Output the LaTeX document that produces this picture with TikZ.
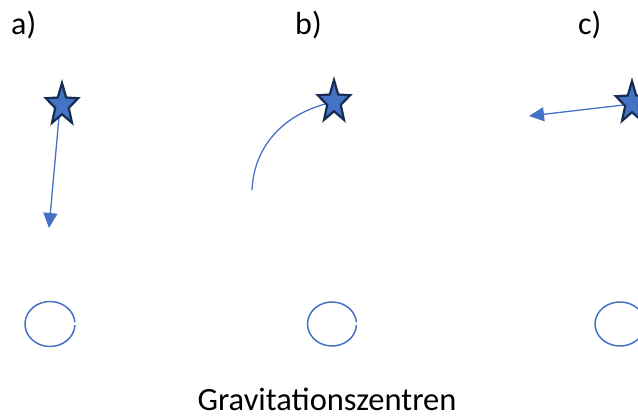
\documentclass[tikz,border=0pt]{standalone}
\usepackage{fontspec}
\setmainfont{Carlito}
\usetikzlibrary{arrows.meta}
\definecolor{lineblue}{HTML}{4472C4}
\definecolor{starfill}{HTML}{4472C4}
\definecolor{navy}{HTML}{172C51}
\tikzset{
  label/.style={font=\fontsize{32}{36}\selectfont, inner sep=0pt},
  conn/.style={draw=lineblue, line width=1.3pt},
  arr/.style={conn, -{Triangle[length=15pt,width=14pt]}},
  centre/.style={draw=lineblue, line width=1.5pt},
  starshape/.style={fill=starfill, draw=navy, line width=2.2pt, line join=miter},
}
\newcommand{\mystar}[2]{%
  \path[starshape] ({#1+17*cos(90)},{#2-22*sin(90)})
  \foreach \k in {0,...,4} {
    -- ({#1+0.42*17*cos(126+72*\k)},{#2-0.42*22*sin(126+72*\k)})
    -- ({#1+17*cos(162+72*\k)},{#2-22*sin(162+72*\k)})
  } -- cycle;}
\begin{document}
\begin{tikzpicture}[x=1pt,y=-1pt]
\path[use as bounding box] (0,0) rectangle (638,418);
\clip (0,0) rectangle (638,418);
% labels
\node[label, anchor=base west] (la) at (11,34) {a)};
\node[label, anchor=base west] (lb) at (295,34) {b)};
\node[label, anchor=base west] (lc) at (578,34) {c)};
\node[label, font=\fontsize{32.5}{36}\selectfont, anchor=base] (gz) at (327,410) {Gravitationszentren};
% star centres and ends
\coordinate (sa) at (60,106);
\coordinate (sb) at (334,102);
\coordinate (sc) at (632,104);
\coordinate (ta) at (49,228);
\coordinate (tb) at (252,190);
\coordinate (tc) at (529,116);
% connectors
\draw[arr] (sa) -- (ta);
\draw[conn] (tb) .. controls (254,143) and (288,111) .. (sb);
\draw[arr] (sc) -- (tc);
% stars
\mystar{62}{105}
\mystar{334}{102}
\mystar{632}{103}
% gravitation centres
\draw[centre] ({50+25*cos(3)},{324+22.5*sin(3)}) arc[start angle=3, end angle=355, x radius=25, y radius=22.5];
\draw[centre] ({332+24.5*cos(3)},{324+22*sin(3)}) arc[start angle=3, end angle=355, x radius=24.5, y radius=22];
\draw[centre] ({620+25*cos(3)},{324+22*sin(3)}) arc[start angle=3, end angle=355, x radius=25, y radius=22];
\end{tikzpicture}
\end{document}
